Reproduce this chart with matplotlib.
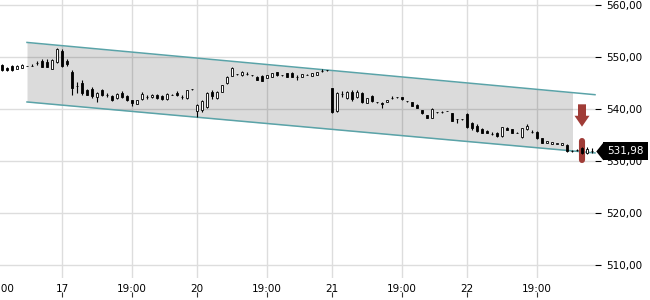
import numpy as np
import matplotlib
matplotlib.use("Agg")
import matplotlib.pyplot as plt
import matplotlib.transforms as mtransforms
from matplotlib.patches import FancyArrow


# OHLC candles, one per half hour
opens = [548.5, 547.9, 548.3, 547.7, 547.9, 548.3, 548.2, 548.8, 549.2, 549.0,
         547.7, 549.0, 551.2, 549.2, 547.1, 544.5, 545.0, 543.6, 543.8, 542.3,
         543.6, 542.7, 542.5, 542.1, 543.1, 542.5, 541.7, 541.0, 541.9, 542.3,
         542.3, 542.7, 542.5, 541.9, 542.7, 543.1, 542.3, 542.1, 543.85, 539.6,
         539.8, 540.4, 543.3, 542.1, 543.3, 545.0, 546.4, 546.75, 546.5, 546.75,
         546.55, 546.2, 546.4, 546.0, 546.2, 547.1, 546.55, 546.9, 546.9, 546.2,
         546.15, 546.55, 546.35, 546.55, 547.3, 547.5, 544.0, 539.6, 542.9, 542.1,
         543.3, 542.3, 543.1, 541.2, 542.5, 541.35, 541.15, 541.35, 542.1, 542.35,
         542.3, 541.55, 541.35, 540.8, 539.8, 538.85, 538.3, 539.4, 539.4, 539.65,
         539.2, 538.05, 538.05, 539.0, 537.3, 536.7, 536.2, 535.8, 535.2, 535.4,
         534.8, 536.4, 536.1, 535.4, 534.6, 536.15, 535.6, 535.6, 534.4, 533.5,
         533.3, 533.3, 533.1, 533.1, 531.95, 532.1, 532.5, 531.6, 531.95]
highs = [548.7, 548.0, 548.4, 548.4, 548.6, 548.35, 548.6, 549.2, 549.6, 549.6,
         549.6, 551.7, 551.6, 549.6, 547.5, 545.2, 545.6, 543.8, 544.2, 543.2,
         543.9, 543.0, 542.6, 543.0, 543.4, 542.6, 541.8, 541.8, 543.3, 542.6,
         542.8, 542.8, 542.6, 543.0, 542.8, 543.4, 542.6, 543.7, 543.9, 541.0,
         541.7, 543.3, 543.6, 543.4, 544.7, 546.3, 548.0, 546.8, 547.3, 547.1,
         546.6, 546.3, 546.5, 546.6, 547.0, 547.2, 546.6, 547.0, 547.1, 546.6,
         546.8, 546.8, 547.0, 547.2, 547.6, 547.55, 544.1, 543.2, 543.5, 543.4,
         543.6, 543.6, 543.2, 542.2, 542.6, 541.4, 541.3, 541.8, 542.5, 542.4,
         542.4, 541.6, 541.4, 540.9, 539.9, 538.9, 540.1, 539.45, 539.7, 539.7,
         539.3, 538.1, 538.1, 539.3, 537.5, 537.1, 536.3, 535.9, 535.5, 535.6,
         536.6, 536.5, 536.2, 535.5, 536.4, 537.2, 535.9, 535.7, 534.5, 533.9,
         533.7, 533.55, 533.5, 533.2, 532.2, 532.4, 532.6, 532.6, 532.5]
lows = [547.3, 547.4, 547.4, 547.6, 547.8, 548.2, 548.2, 548.5, 548.0, 548.0,
        547.6, 548.9, 548.0, 548.3, 542.7, 543.1, 542.7, 542.6, 542.1, 541.4,
        542.5, 542.4, 541.6, 542.0, 542.2, 541.6, 540.6, 540.9, 541.8, 542.0,
        542.2, 542.0, 541.8, 541.8, 542.6, 542.5, 541.9, 542.0, 543.7, 538.5,
        539.5, 540.2, 541.9, 542.0, 543.2, 544.9, 546.3, 546.6, 546.4, 546.5,
        546.4, 545.5, 545.3, 545.9, 546.1, 546.4, 546.4, 546.1, 546.1, 545.6,
        546.1, 546.45, 546.3, 546.5, 547.1, 547.4, 539.3, 539.5, 542.3, 542.0,
        541.6, 542.2, 541.2, 541.1, 541.4, 541.2, 540.2, 541.3, 541.9, 542.2,
        541.8, 541.4, 540.5, 540.1, 539.1, 538.2, 538.2, 539.3, 539.2, 539.55,
        537.6, 537.3, 537.95, 536.4, 535.9, 535.6, 535.3, 535.3, 535.0, 534.7,
        534.7, 535.9, 535.3, 535.3, 534.5, 536.0, 535.3, 534.3, 533.4, 533.4,
        533.2, 533.2, 533.0, 531.8, 531.7, 532.0, 531.4, 531.4, 531.5]
closes = [547.5, 547.5, 547.5, 548.3, 548.5, 548.25, 548.3, 548.85, 548.1, 548.1,
          549.4, 551.5, 548.3, 548.7, 544.0, 544.4, 543.1, 542.7, 542.5, 543.1,
          542.7, 542.75, 541.7, 542.9, 542.3, 541.7, 541.2, 541.7, 542.9, 542.35,
          542.7, 542.1, 541.9, 542.9, 542.65, 542.6, 542.35, 543.6, 543.8, 540.8,
          541.5, 543.1, 542.5, 543.3, 544.6, 546.2, 547.9, 546.7, 547.1, 546.8,
          546.5, 545.6, 545.4, 546.5, 546.9, 546.5, 546.5, 546.2, 546.2, 546.15,
          546.7, 546.5, 546.9, 547.1, 547.35, 547.45, 539.4, 543.1, 542.95, 543.3,
          541.9, 543.3, 541.3, 542.1, 541.5, 541.3, 540.9, 541.7, 542.15, 542.3,
          541.9, 541.5, 540.6, 540.2, 539.2, 538.3, 540.0, 539.35, 539.45, 539.6,
          537.7, 538.0, 538.0, 536.5, 536.35, 535.8, 535.4, 535.4, 535.25, 534.8,
          536.5, 536.0, 535.4, 535.35, 536.3, 536.8, 535.55, 534.4, 533.5, 533.85,
          533.65, 533.5, 533.4, 531.9, 531.9, 532.05, 531.6, 532.3, 531.98]

tick_pos = [12, 26, 39, 53, 66, 80, 93, 107]
tick_labels = ["17", "19:00", "20", "19:00", "21", "19:00", "22", "19:00"]
first_tick = -0.5
first_label = "19:00"

yticks = [510, 520, 530, 540, 550, 560]

# trend channel
channel_x = [5, 118.6]
channel_upper = [552.8, 542.75]
channel_lower = [541.35, 531.55]
channel_fill_end = 114.1

last_price = 531.98
signal_x = 116
arrow_top, arrow_bottom = 540.9, 536.6
signal_bar = [533.9, 530.1]

red = "#a03c37"
teal = "#5aa3a8"

fig = plt.figure(figsize=(6.5, 3), dpi=100)
ax = fig.add_axes([0, 22 / 300, 595 / 650, 278 / 300])
ax.set_xlim(-0.4, 118.6)
ax.set_ylim(507.5, 560.96)

for s in ax.spines.values():
    s.set_visible(False)

ax.set_axisbelow(True)
ax.grid(True, color="#dddddd", lw=1)

# channel
fx = np.array([channel_x[0], channel_fill_end])
up_f = np.interp(fx, channel_x, channel_upper)
lo_f = np.interp(fx, channel_x, channel_lower)
ax.fill_between(fx, lo_f, up_f, color="black", alpha=0.14, lw=0, zorder=1)
ax.plot(channel_x, channel_upper, color=teal, lw=1.1, zorder=2, clip_on=False)
ax.plot(channel_x, channel_lower, color=teal, lw=1.1, zorder=2, clip_on=False)

# signal marks
ax.plot([signal_x, signal_x], signal_bar, color=red, lw=4.4,
        solid_capstyle="round", zorder=2.5)
ax.add_patch(FancyArrow(signal_x, arrow_top, 0, arrow_bottom - arrow_top,
                        width=1.6, head_width=3.0, head_length=2.1,
                        length_includes_head=True, color=red, lw=0, zorder=5))

# candles
x = np.arange(len(closes))
o = np.array(opens)
c = np.array(closes)
ax.vlines(x, lows, highs, color="black", lw=0.8, zorder=3)
rising = c >= o
ax.bar(x, np.maximum(np.abs(c - o), 0.06), bottom=np.minimum(o, c), width=0.5,
       color=np.where(rising, "white", "black"), edgecolor="black",
       linewidth=0.6, zorder=4)

# axes, ticks
ax.yaxis.tick_right()
ax.set_yticks(yticks)
ax.set_yticklabels([f"{v:.2f}".replace(".", ",") for v in yticks])
ax.tick_params(axis="y", length=4, width=0.8, pad=4, labelsize=7.5, color="black")
ax.set_xticks(tick_pos)
ax.set_xticklabels(tick_labels)
ax.tick_params(axis="x", length=0, pad=4, labelsize=7.5)
ax.annotate(first_label, xy=(first_tick, 0), xycoords=ax.get_xaxis_transform(),
            xytext=(0, -4), textcoords="offset points", ha="center", va="top",
            fontsize=7.5, annotation_clip=False)
ax.vlines(tick_pos, -0.068, -0.05, transform=ax.get_xaxis_transform(),
          color="#333333", lw=0.8, clip_on=False)

# last price tag
trans = mtransforms.blended_transform_factory(ax.transAxes, ax.transData)
ax.plot([1 + 8 / 595], [last_price], marker=[(-0.8, 0), (0, -1), (0, 1)],
        ms=13, color="black", mew=0, transform=trans, clip_on=False, zorder=10)
ax.text(1 + 12 / 595, last_price, f"{last_price:.2f}".replace(".", ","),
        color="white", fontsize=7.5, va="center", ha="left", transform=trans,
        bbox=dict(boxstyle="square,pad=0.4", fc="black", ec="none"),
        zorder=11, clip_on=False)

plt.savefig("out.png", dpi=100)
